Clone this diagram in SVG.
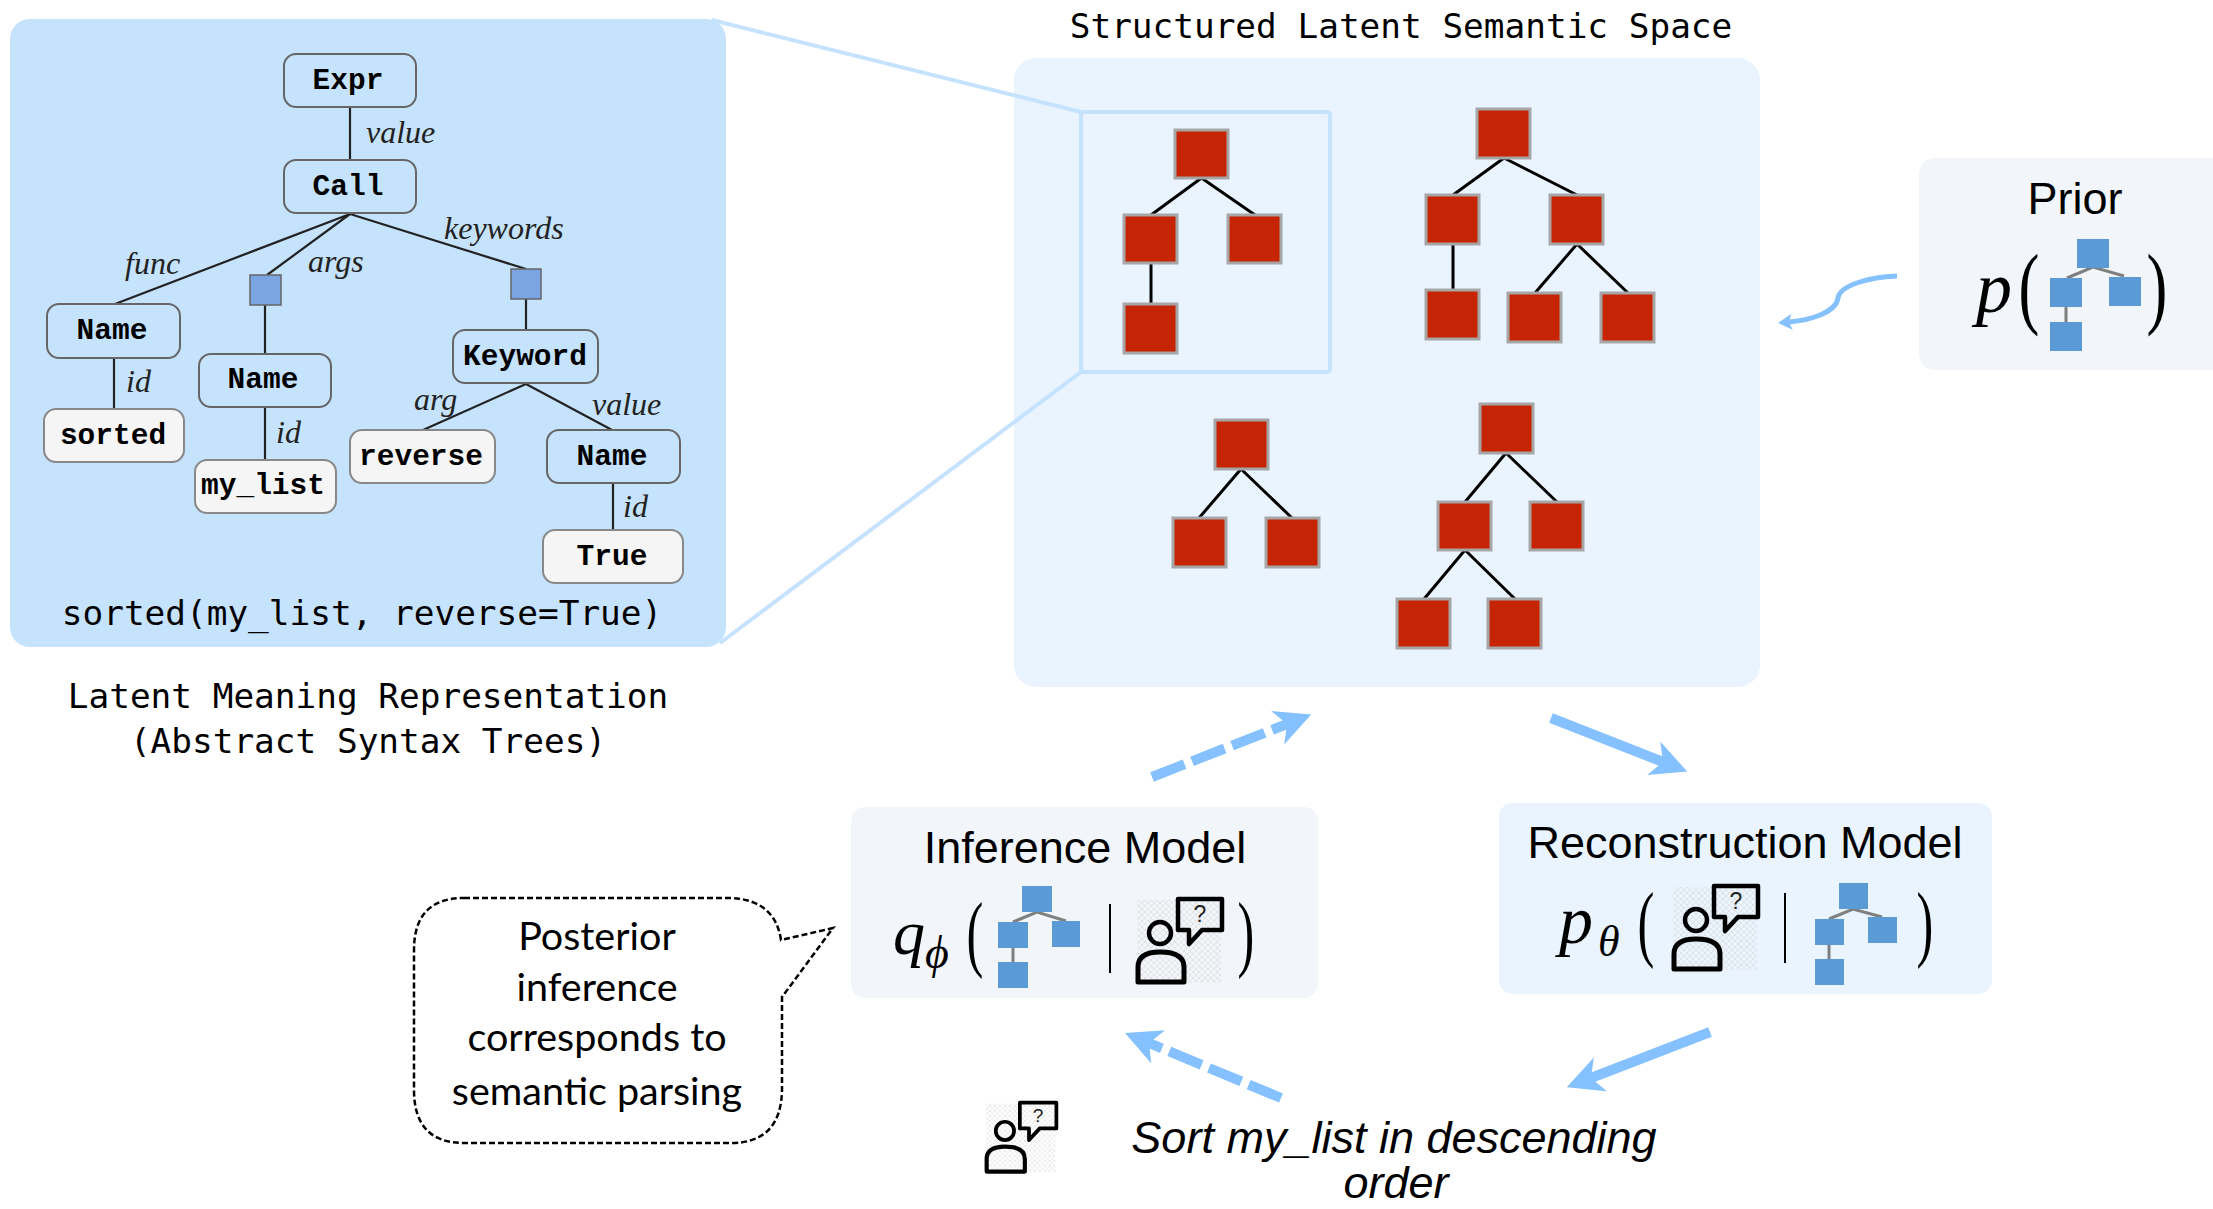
<svg xmlns="http://www.w3.org/2000/svg" width="2213" height="1209" viewBox="0 0 2213 1209">
<style>
.mono{font-family:"DejaVu Sans Mono","Liberation Mono",monospace;fill:#000;font-size:34.4px;text-anchor:middle}
.ast{font-family:"Liberation Mono",monospace;font-weight:700;font-size:29.5px;text-anchor:middle;fill:#000}
.lab{font-family:"Liberation Serif",serif;font-style:italic;font-size:32px;fill:#222}
.head{font-family:"Liberation Sans",Arial,sans-serif;font-size:45px;text-anchor:middle;fill:#000}
.math{font-family:"Liberation Serif",serif;font-style:italic;fill:#000}
.par{font-family:"Liberation Serif",serif;fill:#000;text-anchor:middle}
.call{font-family:"Lato",sans-serif;font-size:39.5px;text-anchor:middle;fill:#000}
.n{fill:#c6e3fd;stroke:#666;stroke-width:2}
.w{fill:#f5f5f5;stroke:#888;stroke-width:2}
.b{fill:#7aa5e2;stroke:#666;stroke-width:1.5}
.r{fill:#c52505;stroke:#a6a6a6;stroke-width:3}
.e{stroke:#222;stroke-width:2.2;fill:none}
.t{stroke:#000;stroke-width:3;fill:none}
.i{fill:#5b9bd5}
.g{stroke:#7f7f7f;stroke-width:3;fill:none}
.ar{stroke:#85c1ff;stroke-width:10;fill:none}
.dash{stroke-dasharray:35 8}
.zoom{stroke:#c5e2ff;stroke-width:4;fill:none}
</style>
<defs>
<marker id="stealth" markerUnits="userSpaceOnUse" markerWidth="40" markerHeight="40" refX="10" refY="20" orient="auto" viewBox="0 0 40 40"><path d="M0,2 L36,20 L0,38 L10,20 Z" fill="#85c1ff"/></marker>
<marker id="small" markerUnits="userSpaceOnUse" markerWidth="16" markerHeight="18" refX="4" refY="9" orient="auto" viewBox="0 0 16 18"><path d="M1,1 L15,9 L1,17 L4,9 Z" fill="#85c1ff"/></marker>
<pattern id="hatch" width="6" height="6" patternUnits="userSpaceOnUse"><path d="M0,0 L6,6 M6,0 L0,6" stroke="#dcdcdc" stroke-width="1" opacity=".7"/></pattern>
<symbol id="user" viewBox="0 0 88 87" width="88" height="87" overflow="visible">
<rect x="1" y="3" width="84" height="83" fill="url(#hatch)"/>
<ellipse cx="24" cy="36" rx="11" ry="11" fill="none" stroke="#000" stroke-width="4.5"/>
<path d="M2,85 V70 Q2,55 24,55 Q48,55 48,70 V85 Z" fill="none" stroke="#000" stroke-width="5" stroke-linejoin="round"/>
<path d="M42,2 H86 V33 H66 L53,47 V33 H42 Z" fill="none" stroke="#000" stroke-width="4.5" stroke-linejoin="round"/>
<text x="64" y="25" font-family="Liberation Sans, sans-serif" font-size="23" text-anchor="middle" fill="#222">?</text>
</symbol>
</defs>

<g id="space-panel"><rect x="1014" y="58" width="746" height="629" rx="22" fill="#e9f4fe"/></g>
<g id="zoom-guides">
<path class="zoom" d="M712,20 L1081,112 M720,643 L1081,372"/>
</g>
<g id="ast-panel"><rect x="10" y="19" width="716" height="628" rx="20" fill="#c6e3fd"/></g>
<g id="zoom-frame"><rect x="1081" y="112" width="249" height="260" rx="3" class="zoom"/></g>

<g id="connectors">
<path class="e" d="M350,107 V160 M350,214 L115,304 M350,214 L267,275 M350,214 L526,269 M265,305 V354 M526,299 V330 M114,358 V409 M265,407 V460 M526,384 L423,430 M526,384 L612,430 M613,483 V530"/>
<path class="t" d="M1201.5,178 L1151,215 M1201.5,178 L1255,215 M1151,263 V304"/>
<path class="t" d="M1504,158 L1453,195 M1504,158 L1577,195 M1453,244 V290 M1577,244 L1535,293 M1577,244 L1628,293"/>
<path class="t" d="M1241,469 L1199,518 M1241,469 L1292,518"/>
<path class="t" d="M1506,453 L1465,502 M1506,453 L1557,502 M1465,550 L1424,599 M1465,550 L1515,599"/>
<path class="ar dash" marker-end="url(#stealth)" d="M1152,777 L1287,724"/>
<path class="ar" marker-end="url(#stealth)" d="M1551,718 L1663,762"/>
<path class="ar" marker-end="url(#stealth)" d="M1710,1032 L1591,1078"/>
<path class="ar dash" marker-end="url(#stealth)" d="M1281,1098 L1149,1043"/>
<path class="ar" style="stroke-width:5" marker-end="url(#small)" d="M1897,276 C1870,277 1840,285 1838,298 C1836,312 1812,320 1789,322"/>
</g>

<g id="ast-expr"><rect class="n" x="284" y="54" width="132" height="53" rx="12"/><text class="ast" x="348" y="89">Expr</text></g>
<g id="ast-call"><rect class="n" x="284" y="160" width="132" height="53" rx="12"/><text class="ast" x="348" y="195">Call</text></g>
<g id="ast-name1"><rect class="n" x="47" y="304" width="133" height="54" rx="12"/><text class="ast" x="112" y="339">Name</text></g>
<g id="ast-list"><rect class="b" x="250" y="275" width="31" height="30"/></g>
<g id="ast-kw"><rect class="b" x="511" y="269" width="30" height="30"/></g>
<g id="ast-name2"><rect class="n" x="199" y="354" width="132" height="53" rx="12"/><text class="ast" x="263" y="388">Name</text></g>
<g id="ast-keyword"><rect class="n" x="453" y="330" width="145" height="53" rx="12"/><text class="ast" x="525" y="365">Keyword</text></g>
<g id="ast-sorted"><rect class="w" x="44" y="409" width="140" height="53" rx="12"/><text class="ast" x="113" y="444">sorted</text></g>
<g id="ast-mylist"><rect class="w" x="195" y="460" width="141" height="53" rx="12"/><text class="ast" x="263" y="494">my_list</text></g>
<g id="ast-reverse"><rect class="w" x="350" y="430" width="145" height="53" rx="12"/><text class="ast" x="421" y="465">reverse</text></g>
<g id="ast-name3"><rect class="n" x="547" y="430" width="133" height="53" rx="12"/><text class="ast" x="612" y="465">Name</text></g>
<g id="ast-true"><rect class="w" x="543" y="530" width="140" height="53" rx="12"/><text class="ast" x="612" y="565">True</text></g>

<g id="ast-labels">
<text class="lab" x="366" y="143">value</text>
<text class="lab" x="125" y="274">func</text>
<text class="lab" x="308" y="272">args</text>
<text class="lab" x="444" y="239">keywords</text>
<text class="lab" x="126" y="392">id</text>
<text class="lab" x="276" y="443">id</text>
<text class="lab" x="414" y="410">arg</text>
<text class="lab" x="592" y="415">value</text>
<text class="lab" x="623" y="517">id</text>
</g>

<text class="mono" x="362" y="625">sorted(my_list, reverse=True)</text>
<text class="mono" x="368" y="708">Latent Meaning Representation</text>
<text class="mono" x="368" y="753">(Abstract Syntax Trees)</text>
<text class="mono" x="1401" y="38">Structured Latent Semantic Space</text>

<g id="tree-a">
<rect class="r" x="1175" y="130" width="53" height="48"/><rect class="r" x="1124" y="215" width="53" height="48"/><rect class="r" x="1228" y="215" width="53" height="48"/><rect class="r" x="1124" y="304" width="53" height="49"/>
</g>
<g id="tree-b">
<rect class="r" x="1477" y="109" width="53" height="49"/><rect class="r" x="1426" y="195" width="53" height="49"/><rect class="r" x="1550" y="195" width="53" height="49"/><rect class="r" x="1426" y="290" width="53" height="49"/><rect class="r" x="1508" y="293" width="53" height="49"/><rect class="r" x="1601" y="293" width="53" height="49"/>
</g>
<g id="tree-c">
<rect class="r" x="1215" y="420" width="53" height="49"/><rect class="r" x="1173" y="518" width="53" height="49"/><rect class="r" x="1266" y="518" width="53" height="49"/>
</g>
<g id="tree-d">
<rect class="r" x="1480" y="404" width="53" height="49"/><rect class="r" x="1438" y="502" width="53" height="48"/><rect class="r" x="1530" y="502" width="53" height="48"/><rect class="r" x="1397" y="599" width="53" height="49"/><rect class="r" x="1488" y="599" width="53" height="49"/>
</g>

<g id="prior">
<path d="M2213,158 H1937 Q1919,158 1919,176 V352 Q1919,370 1937,370 H2213 Z" fill="#f2f6fb"/>
<text class="head" x="2075" y="214">Prior</text>
<text class="math" x="1976" y="312" font-size="72">p</text>
<text class="par" transform="translate(2029,317) scale(.68,1)" font-size="92">(</text>
<path class="g" d="M2067,278 L2093,267 L2124,276 M2066,307 V322"/>
<rect class="i" x="2077" y="239" width="32" height="29"/><rect class="i" x="2050" y="278" width="32" height="29"/><rect class="i" x="2109" y="277" width="32" height="29"/><rect class="i" x="2050" y="322" width="32" height="29"/>
<text class="par" transform="translate(2157,317) scale(.68,1)" font-size="92">)</text>
</g>

<g id="inference">
<rect x="851" y="807" width="467" height="191" rx="14" fill="#f2f6fb"/>
<text class="head" x="1085" y="863">Inference Model</text>
<text class="math" x="893" y="954" font-size="64">q</text>
<text class="math" x="925" y="968" font-size="46">ϕ</text>
<text class="par" transform="translate(975,961) scale(.6,1)" font-size="84">(</text>
<path class="g" d="M1013,922 L1037,912 L1066,921 M1013,948 V962"/>
<rect class="i" x="1022" y="886" width="30" height="26"/><rect class="i" x="998" y="922" width="30" height="26"/><rect class="i" x="1052" y="921" width="28" height="26"/><rect class="i" x="998" y="962" width="30" height="26"/>
<path d="M1110,904 V973" stroke="#000" stroke-width="2"/>
<use href="#user" x="1136" y="897"/>
<text class="par" transform="translate(1246,961) scale(.6,1)" font-size="84">)</text>
</g>

<g id="reconstruction">
<rect x="1499" y="803" width="493" height="191" rx="14" fill="#e9f4fe"/>
<text class="head" x="1745" y="858">Reconstruction Model</text>
<text class="math" x="1559" y="943" font-size="68">p</text>
<text class="math" x="1598" y="956" font-size="44">θ</text>
<text class="par" transform="translate(1646,951) scale(.6,1)" font-size="84">(</text>
<use href="#user" x="1672" y="884"/>
<path d="M1785,893 V963" stroke="#000" stroke-width="2"/>
<path class="g" d="M1829,919 L1853,909 L1882,917 M1829,945 V959"/>
<rect class="i" x="1839" y="883" width="29" height="26"/><rect class="i" x="1815" y="919" width="29" height="26"/><rect class="i" x="1868" y="917" width="29" height="26"/><rect class="i" x="1815" y="959" width="29" height="26"/>
<text class="par" transform="translate(1925,951) scale(.6,1)" font-size="84">)</text>
</g>

<g id="callout">
<path d="M464,898 H731 Q775,900 781,940 L833,928 L782,997 V1090 Q781,1143 731,1143 H464 Q414,1143 414,1090 V950 Q414,898 464,898 Z" fill="#fff" stroke="#000" stroke-width="2.5" stroke-dasharray="6 3"/>
<text class="call" x="597" y="950">Posterior</text>
<text class="call" x="597" y="1001">inference</text>
<text class="call" x="597" y="1051">corresponds to</text>
<text class="call" x="597" y="1105">semantic parsing</text>
</g>

<g id="utterance">
<use href="#user" transform="translate(985,1101) scale(.83)"/>
<text class="head" x="1394" y="1153" font-style="italic" font-size="45.5">Sort my_list in descending</text>
<text class="head" x="1396" y="1198" font-style="italic">order</text>
</g>
</svg>
